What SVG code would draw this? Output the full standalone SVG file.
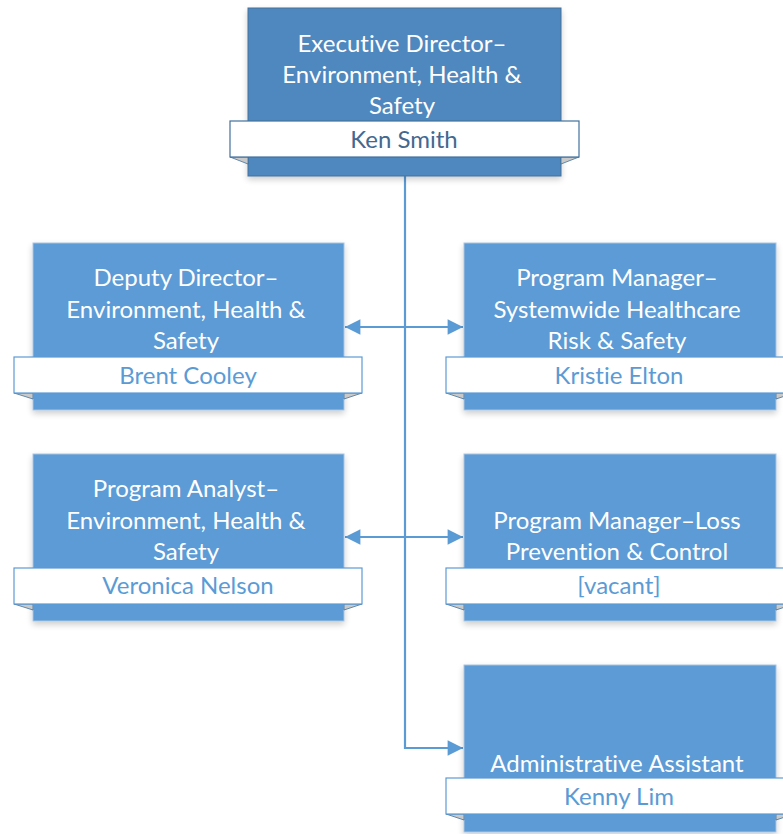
<svg xmlns="http://www.w3.org/2000/svg" width="783" height="834" viewBox="0 0 783 834">
<defs>
<style>
.box{fill:#5B9BD5;stroke:#A9C4E0;stroke-width:1}
.top{fill:#4F88BE;stroke:#41719C;stroke-width:1}
.ban{fill:#ffffff;stroke:#5B9BD5;stroke-width:1.2}
.bantop{fill:#ffffff;stroke:#41719C;stroke-width:1.2}
.fold{fill:#C9C9C9;stroke:#41719C;stroke-width:0.8}
.t{font-family:Lato,"Open Sans","Liberation Sans",sans-serif;font-size:24px;fill:#ffffff;text-anchor:middle;font-variant-ligatures:none}
.n{font-family:Lato,"Open Sans","Liberation Sans",sans-serif;font-size:24px;fill:#5B9BD5;text-anchor:middle;font-variant-ligatures:none}
.ntop{fill:#44688F}
.c{stroke:#5B9BD5;stroke-width:2.2;fill:none}
</style>
<filter id="sh" x="-10%" y="-10%" width="120%" height="130%">
<feGaussianBlur in="SourceAlpha" stdDeviation="3"/>
<feOffset dx="0" dy="3"/>
<feComponentTransfer><feFuncA type="linear" slope="0.2"/></feComponentTransfer>
<feMerge><feMergeNode/><feMergeNode in="SourceGraphic"/></feMerge>
</filter>
<marker id="ah" viewBox="0 0 10 10" refX="10" refY="5" markerWidth="8" markerHeight="7" markerUnits="strokeWidth" orient="auto-start-reverse">
<path d="M0,0 L10,5 L0,10 z" fill="#5B9BD5"/>
</marker>
</defs>
<rect width="783" height="834" fill="#ffffff"/>

<g id="connectors">
<path class="c" d="M405,176 V748 H463" marker-end="url(#ah)"/>
<line class="c" x1="345" y1="327" x2="463" y2="327" marker-start="url(#ah)" marker-end="url(#ah)"/>
<line class="c" x1="345" y1="537" x2="463" y2="537" marker-start="url(#ah)" marker-end="url(#ah)"/>
</g>

<g id="exec">
<rect class="top" x="248" y="8" width="313" height="168" filter="url(#sh)"/>
<polygon class="fold" points="230,157 248,157 248,164"/>
<polygon class="fold" points="579,157 561,157 561,164"/>
<rect class="bantop" x="230" y="121" width="349" height="36"/>
<text class="t" x="402" y="52">Executive Director–</text>
<text class="t" x="402" y="83">Environment, Health &amp;</text>
<text class="t" x="402" y="114">Safety</text>
<text class="n ntop" x="404" y="148">Ken Smith</text>
</g>

<g id="deputy">
<rect class="box" x="33" y="243" width="311" height="167" filter="url(#sh)"/>
<polygon class="fold" points="14,393 33,393 33,399"/>
<polygon class="fold" points="362,393 344,393 344,399"/>
<rect class="ban" x="14" y="357" width="348" height="36"/>
<text class="t" x="186" y="286">Deputy Director–</text>
<text class="t" x="186" y="318">Environment, Health &amp;</text>
<text class="t" x="186" y="349">Safety</text>
<text class="n" x="188" y="384">Brent Cooley</text>
</g>

<g id="pm-risk">
<rect class="box" x="464" y="243" width="312" height="167" filter="url(#sh)"/>
<polygon class="fold" points="446,393 464,393 464,399"/>
<polygon class="fold" points="794,393 776,393 776,399"/>
<rect class="ban" x="446" y="357" width="348" height="36"/>
<text class="t" x="617" y="286">Program Manager–</text>
<text class="t" x="617" y="318">Systemwide Healthcare</text>
<text class="t" x="617" y="349">Risk &amp; Safety</text>
<text class="n" x="619" y="384">Kristie Elton</text>
</g>

<g id="analyst">
<rect class="box" x="33" y="454" width="311" height="167" filter="url(#sh)"/>
<polygon class="fold" points="14,604 33,604 33,610"/>
<polygon class="fold" points="362,604 344,604 344,610"/>
<rect class="ban" x="14" y="568" width="348" height="36"/>
<text class="t" x="186" y="497">Program Analyst–</text>
<text class="t" x="186" y="529">Environment, Health &amp;</text>
<text class="t" x="186" y="560">Safety</text>
<text class="n" x="188" y="594">Veronica Nelson</text>
</g>

<g id="pm-loss">
<rect class="box" x="464" y="454" width="312" height="167" filter="url(#sh)"/>
<polygon class="fold" points="446,604 464,604 464,610"/>
<polygon class="fold" points="794,604 776,604 776,610"/>
<rect class="ban" x="446" y="568" width="348" height="36"/>
<text class="t" x="617" y="529">Program Manager–Loss</text>
<text class="t" x="617" y="560">Prevention &amp; Control</text>
<text class="n" x="619" y="594">[vacant]</text>
</g>

<g id="admin">
<rect class="box" x="464" y="665" width="312" height="167" filter="url(#sh)"/>
<polygon class="fold" points="446,814 464,814 464,820"/>
<polygon class="fold" points="794,814 776,814 776,820"/>
<rect class="ban" x="446" y="778" width="348" height="36"/>
<text class="t" x="617" y="772">Administrative Assistant</text>
<text class="n" x="619" y="805">Kenny Lim</text>
</g>
</svg>
